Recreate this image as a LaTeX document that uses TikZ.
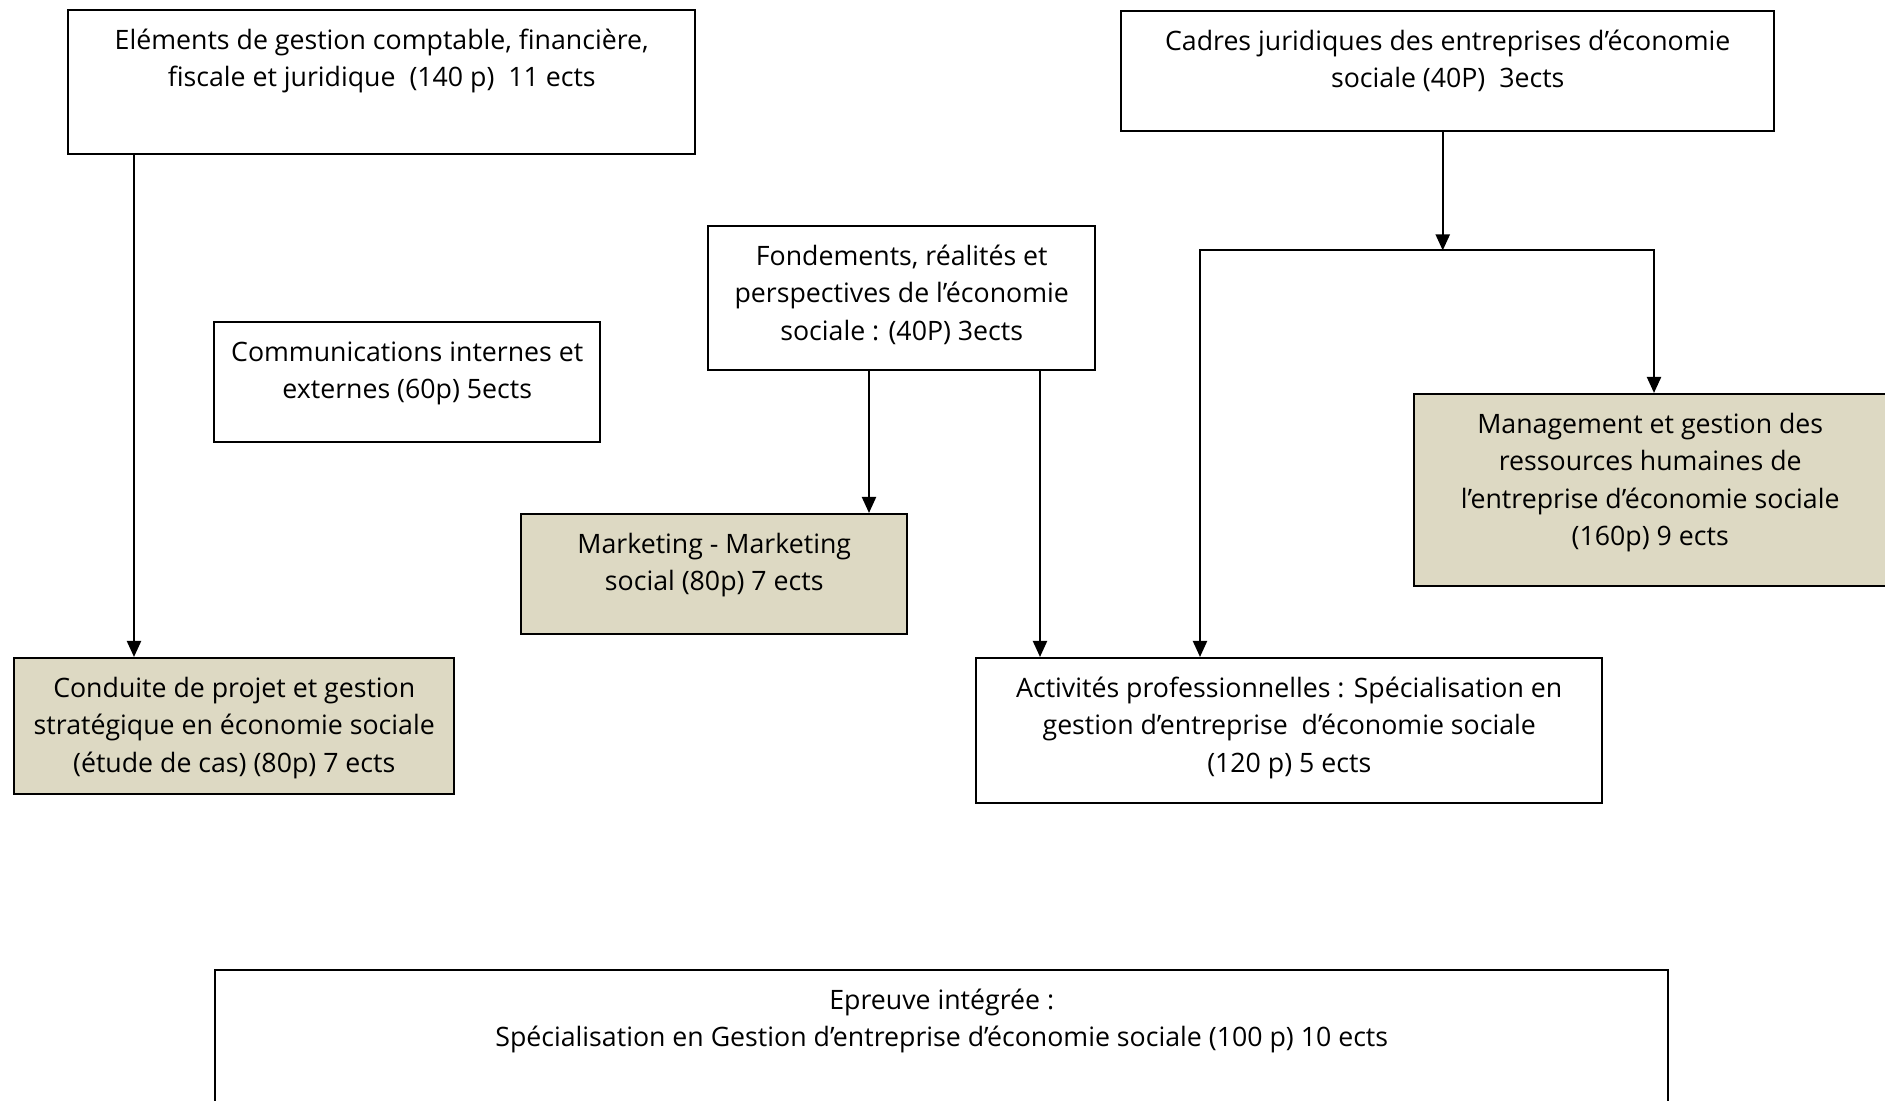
\documentclass[tikz,border=0pt]{standalone}
\usepackage{fontspec}
\setmainfont{Open Sans}
\usetikzlibrary{arrows.meta}
\definecolor{clrtan}{RGB}{221,217,195}

\begin{document}
\begin{tikzpicture}[
	box/.style={draw, line width=0.7pt, inner sep=0pt, anchor=north west},
	arr/.style={line width=0.6pt, -{Triangle[width=0.14cm,length=0.16cm]}}]

\def\pagew{18.85}
\def\pageh{11.01}
\def\clrplain{white}
\def\clrstage{clrtan}

% \modbox{name}{left}{top}{width}{height}{fill}{text}
\newcommand*{\modbox}[7]{
	\node [box, fill=#6] (#1) at (#2,#3) {\parbox[t][#5cm][t]{#4cm}{\centering\fontsize{7.6}{10.67}\selectfont\rule{0pt}{0.39cm}#7}};
}

	\clip (0,0) rectangle (\pagew,\pageh);

	\modbox{elements}{0.67}{10.92}{6.27}{1.44}{\clrplain}{El\'ements de gestion comptable, financi\`ere,\\fiscale et juridique \ (140 p) \ 11 ects}
	\modbox{cadres}{11.20}{10.91}{6.53}{1.20}{\clrplain}{Cadres juridiques des entreprises d’\'economie\\sociale (40P) \ 3ects}
	\modbox{fondements}{7.07}{8.76}{3.87}{1.44}{\clrplain}{Fondements, r\'ealit\'es et\\perspectives de l’\'economie\\sociale : (40P) 3ects}
	\modbox{communication}{2.13}{7.80}{3.86}{1.20}{\clrplain}{Communications internes et\\externes (60p) 5ects}
	\modbox{management}{14.13}{7.08}{4.72}{1.92}{\clrstage}{Management et gestion des\\ressources humaines de\\l’entreprise d’\'economie sociale\\(160p) 9 ects}
	\modbox{marketing}{5.20}{5.88}{3.86}{1.20}{\clrstage}{Marketing - Marketing\\social (80p) 7 ects}
	\modbox{conduite}{0.13}{4.44}{4.40}{1.36}{\clrstage}{Conduite de projet et gestion\\strat\'egique en \'economie sociale\\(\'etude de cas) (80p) 7 ects}
	\modbox{activites}{9.75}{4.44}{6.26}{1.45}{\clrplain}{Activit\'es professionnelles : Sp\'ecialisation en\\gestion d’entreprise \ d’\'economie sociale\\(120 p) 5 ects}
	\modbox{epreuve}{2.14}{1.32}{14.53}{1.60}{\clrplain}{Epreuve int\'egr\'ee :\\Sp\'ecialisation en Gestion d’entreprise d’\'economie sociale (100 p) 10 ects}

	% left column
	\draw [arr] ([xshift=0.67cm]elements.south west) -- ([xshift=0.67cm]elements.south west |- conduite.north);

	% fork under the legal frameworks
	\coordinate (fork) at ([xshift=-0.05cm,yshift=-1.18cm]cadres.south);
	\coordinate (actin) at ([xshift=2.25cm]activites.north west);
	\coordinate (mgin) at ([xshift=2.41cm]management.north west);
	\draw [arr] ([xshift=-0.05cm]cadres.south) -- (fork);
	\draw [arr] (fork) -| (mgin);
	\draw [arr] (fork) -| (actin);

	% foundations
	\draw [arr] ([xshift=1.62cm]fondements.south west) -- ([xshift=1.62cm]fondements.south west |- marketing.north);
	\draw [arr] ([xshift=0.65cm]activites.north west |- fondements.south) -- ([xshift=0.65cm]activites.north west);

\end{tikzpicture}
\end{document}
